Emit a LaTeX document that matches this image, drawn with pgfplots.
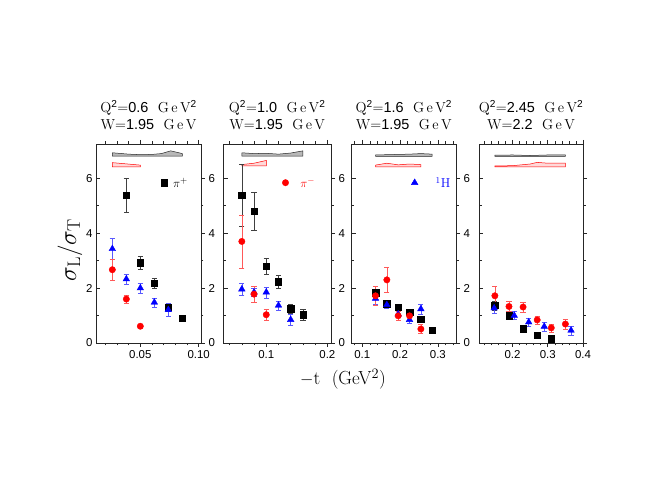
\documentclass[border=0pt]{standalone}
\usepackage{pgfplots}
\pgfplotsset{compat=1.18}
\usepackage{fontspec}
\newfontfamily\hv{Liberation Sans}

\newcommand\n[1]{{\hv #1}}

\pgfplotsset{
  frame/.style={scale only axis, height=199bp, ymin=0, ymax=7.25, anchor=south west,
    axis line style={black!85, line width=0.7bp},
    tick style={black!85, line width=0.6bp},
    major tick length=4bp, minor tick length=2.5bp,
    ytick={0,2,4,6}, minor y tick num=1,
    ticklabel style={font=\hv\fontsize{11.5}{12}\selectfont},
    /pgf/number format/assume math mode=true},
  panel/.style={frame, tick align=outside, xtick pos=both,
    ytick pos=right, yticklabel pos=right},
  leftax/.style={frame, tick align=inside, axis x line=none, axis y line*=left},
  sq/.style={only marks, mark=square*, mark size=3.2bp, black,
    error bars/.cd, y dir=both, y explicit,
    error bar style={black!75, line width=0.6bp},
    error mark options={rotate=90, mark size=2.6bp, black!75}},
  tri/.style={only marks, mark=triangle*, mark size=3.8bp, blue,
    error bars/.cd, y dir=both, y explicit,
    error bar style={blue!65, line width=0.6bp},
    error mark options={rotate=90, mark size=2.6bp, blue!65}},
  dot/.style={only marks, mark=*, mark size=3.2bp, red,
    error bars/.cd, y dir=both, y explicit,
    error bar style={red!65, line width=0.6bp},
    error mark options={rotate=90, mark size=2.6bp, red!65}},
  bandk/.style={draw=black!85, line width=0.5bp, fill=black!28},
  bandr/.style={draw=red, line width=0.5bp, fill=red!15},
}

\begin{document}
\begin{tikzpicture}[x=1bp, y=1bp]
\useasboundingbox (0,0) rectangle (648,501);

% ---- panel 1: Q2=0.6
\begin{axis}[leftax, at={(96bp,158bp)}, width=105bp, xmin=0.012, xmax=0.102]
\end{axis}
\begin{axis}[panel, at={(96bp,158bp)}, width=105bp, xmin=0.012, xmax=0.102,
  xtick={0.05,0.1}, xticklabels={0.05,0.10},
  minor xtick={0.02,0.03,0.04,0.06,0.07,0.08,0.09}]
\addplot[bandk] coordinates {(0.026,6.81) (0.086,6.81) (0.086,6.90) (0.076,7.00)
  (0.068,6.90) (0.06,6.87) (0.05,6.86) (0.04,6.88) (0.026,6.93)} -- cycle;
\addplot[bandr] coordinates {(0.026,6.42) (0.050,6.42) (0.050,6.48) (0.026,6.57)} -- cycle;
\addplot[sq] coordinates {(0.038,5.39) +- (0,0.61) (0.050,2.93) +- (0,0.25)
  (0.062,2.18) +- (0,0.18) (0.074,1.31) +- (0,0.15) (0.086,0.90) +- (0,0.12)};
\addplot[tri] coordinates {(0.026,3.43) +- (0,0.39) (0.038,2.33) +- (0,0.18)
  (0.050,2.00) +- (0,0.18) (0.062,1.48) +- (0,0.16) (0.074,1.21) +- (0,0.24)};
\addplot[dot] coordinates {(0.026,2.67) +- (0,0.38) (0.038,1.60) +- (0,0.15)
  (0.050,0.61) +- (0,0)};
\addplot[sq] coordinates {(0.0703,5.84) +- (0,0)};
\node[anchor=west, font=\fontsize{13}{15}\selectfont] at (axis cs:0.075,5.84) {$\pi^+$};
\end{axis}

% ---- panel 2: Q2=1.0
\begin{axis}[leftax, at={(223.5bp,158bp)}, width=107.5bp, xmin=0.03, xmax=0.206,
  yticklabels={}]
\end{axis}
\begin{axis}[panel, at={(223.5bp,158bp)}, width=107.5bp, xmin=0.03, xmax=0.206,
  xtick={0.1,0.2}, xticklabels={0.1,0.2},
  minor xtick={0.04,0.06,0.08,0.12,0.14,0.16,0.18}]
\addplot[bandk] coordinates {(0.06,6.81) (0.16,6.81) (0.16,7.00) (0.14,6.92)
  (0.12,6.88) (0.10,6.91) (0.08,6.90) (0.06,6.93)} -- cycle;
\addplot[bandr] coordinates {(0.06,6.45) (0.10,6.45) (0.10,6.65) (0.08,6.55) (0.06,6.50)} -- cycle;
\addplot[sq] coordinates {(0.06,5.39) +- (0,1.14) (0.08,4.81) +- (0,0.70)
  (0.10,2.79) +- (0,0.30) (0.12,2.24) +- (0,0.24) (0.14,1.25) +- (0,0.17)
  (0.16,1.03) +- (0,0.21)};
\addplot[tri] coordinates {(0.06,1.96) +- (0,0.22) (0.08,1.85) +- (0,0.15)
  (0.10,1.85) +- (0,0.20) (0.12,1.37) +- (0,0.16) (0.14,0.85) +- (0,0.21)};
\addplot[dot] coordinates {(0.06,3.70) +- (0,0.97) (0.08,1.78) +- (0,0.30)
  (0.10,1.03) +- (0,0.19)};
\addplot[dot] coordinates {(0.1315,5.84) +- (0,0)};
\node[anchor=west, text=red, font=\fontsize{13}{15}\selectfont] at (axis cs:0.15,5.84) {$\pi^-$};
\end{axis}

% ---- panel 3: Q2=1.6
\begin{axis}[leftax, at={(351.7bp,158bp)}, width=104.3bp, xmin=0.072, xmax=0.348,
  yticklabels={}]
\end{axis}
\begin{axis}[panel, at={(351.7bp,158bp)}, width=104.3bp, xmin=0.072, xmax=0.348,
  xtick={0.1,0.2,0.3}, xticklabels={0.1,0.2,0.3},
  minor xtick={0.08,0.12,0.14,0.16,0.18,0.22,0.24,0.26,0.28,0.32,0.34}]
\addplot[bandk] coordinates {(0.135,6.80) (0.285,6.80) (0.285,6.88) (0.255,6.90)
  (0.225,6.88) (0.195,6.87) (0.165,6.86) (0.135,6.85)} -- cycle;
\addplot[bandr] coordinates {(0.135,6.42) (0.255,6.42) (0.255,6.50) (0.225,6.52)
  (0.195,6.49) (0.165,6.55) (0.135,6.48)} -- cycle;
\addplot[sq] coordinates {(0.135,1.83) +- (0,0.13) (0.165,1.43) +- (0,0.08)
  (0.195,1.30) +- (0,0.08) (0.225,1.12) +- (0,0.08) (0.255,0.87) +- (0,0.10)
  (0.285,0.46) +- (0,0.06)};
\addplot[tri] coordinates {(0.135,1.62) +- (0,0.22) (0.165,1.39) +- (0,0.12)
  (0.195,1.05) +- (0,0.10) (0.225,0.85) +- (0,0.12) (0.255,1.24) +- (0,0.18)};
\addplot[dot] coordinates {(0.135,1.72) +- (0,0.35) (0.165,2.30) +- (0,0.46)
  (0.195,0.99) +- (0,0.17) (0.225,0.99) +- (0,0.15) (0.255,0.51) +- (0,0.17)};
\addplot[tri] coordinates {(0.2386,5.84) +- (0,0)};
\node[anchor=west, text=blue, font=\fontsize{13}{15}\selectfont] at (axis cs:0.285,5.84) {$^1$H};
\end{axis}

% ---- panel 4: Q2=2.45
\begin{axis}[leftax, at={(479bp,158bp)}, width=104bp, xmin=0.105, xmax=0.4,
  yticklabels={}]
\end{axis}
\begin{axis}[panel, at={(479bp,158bp)}, width=104bp, xmin=0.105, xmax=0.4,
  xtick={0.2,0.3,0.4}, xticklabels={0.2,0.3,0.4}, yticklabels={},
  minor xtick={0.12,0.14,0.16,0.18,0.22,0.24,0.26,0.28,0.32,0.34,0.36,0.38}]
\addplot[bandk] coordinates {(0.15,6.80) (0.35,6.80) (0.35,6.85) (0.30,6.85)
  (0.25,6.83) (0.20,6.85) (0.15,6.84)} -- cycle;
\addplot[bandr] coordinates {(0.15,6.42) (0.35,6.42) (0.35,6.55) (0.30,6.55)
  (0.27,6.58) (0.25,6.52) (0.20,6.46) (0.15,6.45)} -- cycle;
\addplot[sq] coordinates {(0.15,1.37) +- (0,0.17) (0.19,0.99) +- (0,0.05)
  (0.23,0.52) +- (0,0.04) (0.27,0.28) +- (0,0.03) (0.31,0.15) +- (0,0.03)};
\addplot[tri] coordinates {(0.148,1.27) +- (0,0.19) (0.205,1.00) +- (0,0.15)
  (0.246,0.76) +- (0,0.14) (0.29,0.60) +- (0,0.16) (0.366,0.46) +- (0,0.16)};
\addplot[dot] coordinates {(0.15,1.72) +- (0,0.34) (0.19,1.33) +- (0,0.18)
  (0.23,1.31) +- (0,0.17) (0.27,0.84) +- (0,0.15) (0.31,0.55) +- (0,0.15)
  (0.35,0.69) +- (0,0.18)};
\end{axis}

% ---- titles
\begin{scope}[every node/.style={anchor=base, font=\fontsize{14.5}{16}\selectfont}]
\node at (148.5,388) {Q\textsuperscript{\n{2}}$=$\n{0.6}\ \ G\,e\,V\textsuperscript{\n{2}}};
\node at (148.5,371) {W$=$\n{1.95}\ \ G\,e\,V};
\node at (277.2,388) {Q\textsuperscript{\n{2}}$=$\n{1.0}\ \ G\,e\,V\textsuperscript{\n{2}}};
\node at (277.2,371) {W$=$\n{1.95}\ \ G\,e\,V};
\node at (403.8,388) {Q\textsuperscript{\n{2}}$=$\n{1.6}\ \ G\,e\,V\textsuperscript{\n{2}}};
\node at (403.8,371) {W$=$\n{1.95}\ \ G\,e\,V};
\node at (531,388) {Q\textsuperscript{\n{2}}$=$\n{2.45}\ \ G\,e\,V\textsuperscript{\n{2}}};
\node at (531,371) {W$=$\n{2.2}\ \ G\,e\,V};
\end{scope}

% ---- axis labels
\node[rotate=90, font=\fontsize{26}{30}\selectfont] at (70,251) {$\sigma_{\mathrm{L}}/\sigma_{\mathrm{T}}$};
\node[font=\fontsize{19}{22}\selectfont] at (343,122) {$-$t\ \ (GeV$^{2}$)};
\end{tikzpicture}
\end{document}
